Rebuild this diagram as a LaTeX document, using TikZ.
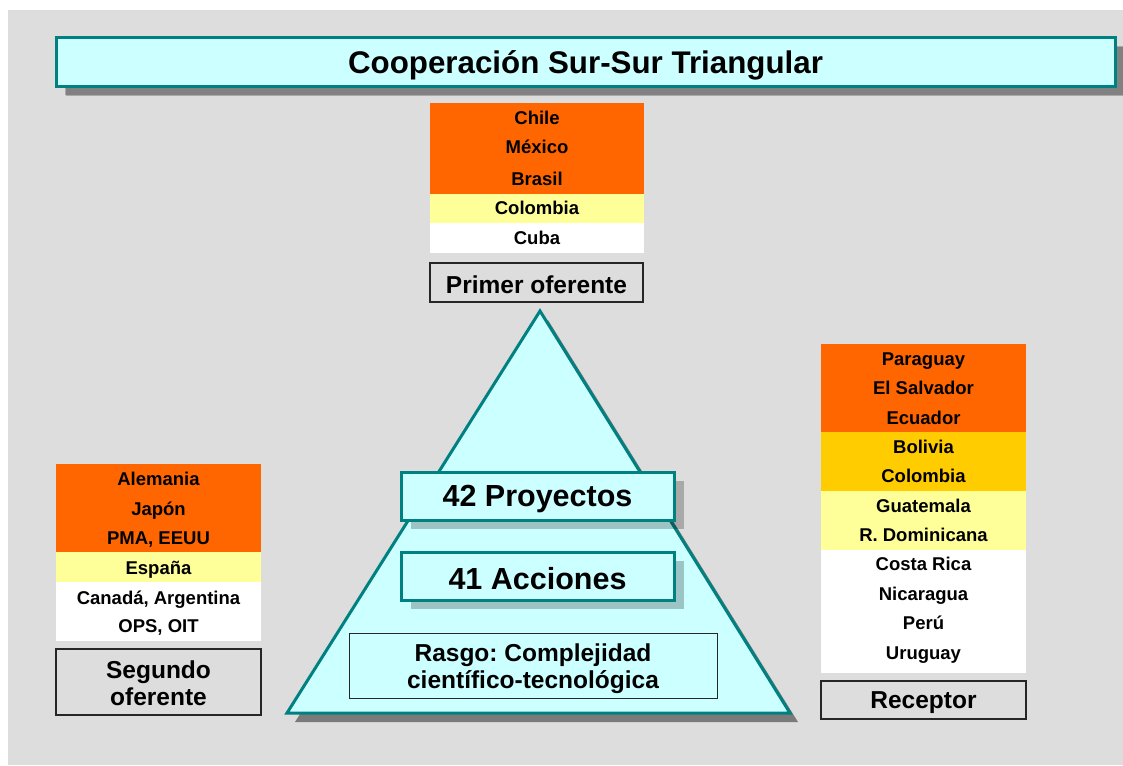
\documentclass[tikz,border=0pt]{standalone}
\usepackage{fontspec}
\setmainfont{Liberation Sans}
\usetikzlibrary{shadows}
\frenchspacing
\definecolor{tealb}{HTML}{008080}
\definecolor{cyanf}{HTML}{CCFFFF}
\definecolor{bgc}{HTML}{DDDDDD}
\definecolor{orng}{HTML}{FF6600}
\definecolor{yelw}{HTML}{FFFF99}
\definecolor{gold}{HTML}{FFCC00}
\definecolor{trishadow}{HTML}{7A7A7A}
\begin{document}
\begin{tikzpicture}[x=1pt,y=-1pt,
  band/.style={inner sep=0pt, draw=none},
  cell/.style={inner sep=0pt, yshift=-2pt, font=\bfseries\fontsize{18.5}{21}\selectfont, text height=13pt, text depth=3.7pt},
  labelbox/.style={draw=black!85, line width=1.2pt, fill=bgc, inner sep=0pt},
  labeltext/.style={inner sep=0pt, align=center, font=\bfseries\fontsize{24.5}{27}\selectfont},
  tealbox/.style={draw=tealb, line width=3pt, fill=cyanf, inner sep=0pt,
     drop shadow={opacity=0.23, fill=black, shadow xshift=10pt, shadow yshift=-9pt}},
  bigtext/.style={inner sep=0pt, font=\bfseries\fontsize{30.5}{34}\selectfont},
]
\useasboundingbox (0,0) rectangle (1123,765);
\fill[bgc] (8,10) rectangle (1123,765);

% Title
\node[tealbox, minimum width=1059pt, minimum height=49pt,
  drop shadow={opacity=0.23, fill=black, shadow xshift=9pt, shadow yshift=-8pt}] (title) at (585.5,62.5) {};
\node[inner sep=0pt, font=\bfseries\fontsize{31.3}{34}\selectfont] (titletext) at ([yshift=-3pt]title.center) {Cooperación Sur-Sur Triangular};

% Primer oferente table
\node[band, fill=orng, minimum width=214pt, minimum height=91pt] (p1) at (537,148.5) {};
\node[band, fill=yelw, minimum width=214pt, minimum height=29pt] (p2) at (537,208.5) {};
\node[band, fill=white, minimum width=214pt, minimum height=30pt] (p3) at (537,238) {};
\node[cell] (pchile) at (537,118) {Chile};
\node[cell] (pmex) at (537,147) {México};
\node[cell] (pbra) at (537,179) {Brasil};
\node[cell] (pcol) at (537,208) {Colombia};
\node[cell] (pcub) at (537,238) {Cuba};
\node[labelbox, minimum width=213pt, minimum height=39pt] (primer) at (536.5,282.5) {};
\node[labeltext] (primertext) at ([yshift=-2pt]primer.center) {Primer oferente};

% Triangle
\fill[trishadow] (548,320) -- (798,722) -- (295,722) -- cycle;
\draw[tealb, line width=3pt, fill=cyanf, line join=miter] (540,311) -- (790,713) -- (287,713) -- cycle;

\node[tealbox, minimum width=273pt, minimum height=48pt] (proy) at (537.5,496) {};
\node[bigtext] (proytext) at ([yshift=-3.5pt]proy.center) {42 Proyectos};
\node[tealbox, minimum width=273pt, minimum height=48pt] (acc) at (537.5,576) {};
\node[bigtext] (acctext) at ([yshift=-2.5pt]acc.center) {41 Acciones};
\node[draw=black!85, line width=1pt, inner sep=0pt, minimum width=368pt, minimum height=65pt] (rasgo) at (533,665.5) {};
\node[labeltext] (rasgotext) at ([yshift=-3.5pt]rasgo.center) {Rasgo: Complejidad\\científico-tecnológica};

% Segundo oferente table
\node[band, fill=orng, minimum width=205pt, minimum height=88pt] (s1) at (158.5,508) {};
\node[band, fill=yelw, minimum width=205pt, minimum height=30pt] (s2) at (158.5,567) {};
\node[band, fill=white, minimum width=205pt, minimum height=59pt] (s3) at (158.5,611.5) {};
\node[cell] (sale) at (158.5,479) {Alemania};
\node[cell] (sjap) at (158.5,509) {Japón};
\node[cell] (spma) at (158.5,538) {PMA, EEUU};
\node[cell] (sesp) at (158.5,568) {España};
\node[cell] (scan) at (158.5,598) {Canadá, Argentina};
\node[cell] (sops) at (158.5,626) {OPS, OIT};
\node[labelbox, minimum width=205pt, minimum height=66pt] (segundo) at (158.5,682) {};
\node[labeltext] (segundotext) at ([yshift=-1.5pt]segundo.center) {Segundo\\oferente};

% Receptor table
\node[band, fill=orng, minimum width=205pt, minimum height=88pt] (r1) at (923.5,388) {};
\node[band, fill=gold, minimum width=205pt, minimum height=59pt] (r2) at (923.5,461.5) {};
\node[band, fill=yelw, minimum width=205pt, minimum height=59pt] (r3) at (923.5,520.5) {};
\node[band, fill=white, minimum width=205pt, minimum height=123pt] (r4) at (923.5,611.5) {};
\node[cell] (rpar) at (923.5,359) {Paraguay};
\node[cell] (rsal) at (923.5,388) {El Salvador};
\node[cell] (recu) at (923.5,418) {Ecuador};
\node[cell] (rbol) at (923.5,447) {Bolivia};
\node[cell] (rcol) at (923.5,476) {Colombia};
\node[cell] (rgua) at (923.5,506) {Guatemala};
\node[cell] (rdom) at (923.5,535) {R. Dominicana};
\node[cell] (rcos) at (923.5,564) {Costa Rica};
\node[cell] (rnic) at (923.5,594) {Nicaragua};
\node[cell] (rper) at (923.5,623) {Perú};
\node[cell] (rurg) at (923.5,653) {Uruguay};
\node[labelbox, minimum width=205pt, minimum height=38pt] (receptor) at (923.5,700) {};
\node[labeltext] (receptortext) at ([yshift=-3pt]receptor.center) {Receptor};
\end{tikzpicture}
\end{document}
